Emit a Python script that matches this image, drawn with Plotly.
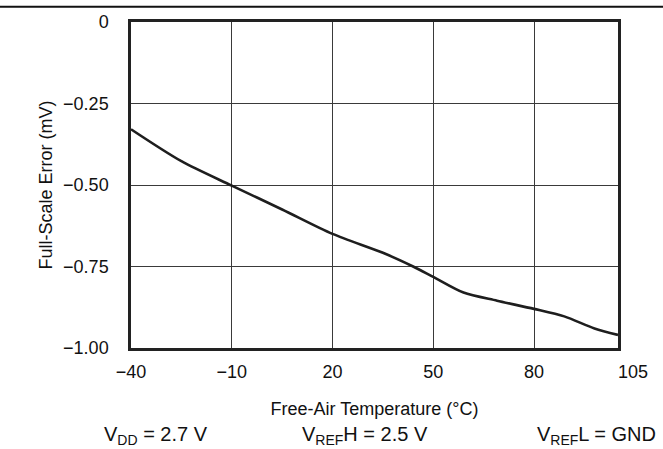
import numpy as np
import plotly.graph_objects as go

# Data
temperature = [-40, -25, -10, 5, 20, 35, 44, 50, 59, 69, 80, 89, 98, 105]
fs_error = [-0.329, -0.427, -0.502, -0.575, -0.650, -0.708, -0.750, -0.782,
            -0.830, -0.855, -0.880, -0.903, -0.940, -0.960]

x_ticks = [-40, -10, 20, 50, 80, 105]
x_ticktext = ["\u221240", "\u221210", "20", "50", "80", ""]
y_ticks = [0, -0.25, -0.5, -0.75, -1.0]
y_ticktext = ["0", "\u22120.25", "\u22120.50", "\u22120.75", "\u22121.00"]

FONT = "Liberation Sans, Arial, Helvetica, sans-serif"
FS = 18
FS_NOTE = 20

fig = go.Figure()
fig.add_trace(go.Scatter(
    x=temperature, y=fs_error, mode="lines",
    line=dict(color="#1e1e1e", width=2.6, shape="spline", smoothing=0.8),
    showlegend=False, hoverinfo="skip"))

fig.update_layout(
    width=663, height=449,
    margin=dict(l=131, r=45, t=19.5, b=100.5),
    paper_bgcolor="white", plot_bgcolor="white",
    font=dict(family=FONT, size=FS, color="#111"),
    xaxis=dict(
        range=[-40, 105], tickmode="array", tickvals=x_ticks, ticktext=x_ticktext,
        showgrid=True, gridcolor="#3a3a3a", gridwidth=1,
        showline=True, mirror=True, linecolor="#222", linewidth=2.5,
        ticks="", zeroline=False, ticklabelstandoff=6,
        title=dict(text="Free-Air Temperature (\u00b0C)", standoff=22,
                   font=dict(size=FS)),
    ),
    yaxis=dict(
        range=[-1.0, 0], tickmode="array", tickvals=y_ticks, ticktext=y_ticktext,
        showgrid=True, gridcolor="#3a3a3a", gridwidth=1,
        showline=True, mirror=True, linecolor="#222", linewidth=2.5,
        ticks="", zeroline=False, ticklabelstandoff=16,
        title=dict(text="Full-Scale Error (mV)", standoff=6, font=dict(size=FS)),
    ),
    shapes=[dict(type="line", xref="paper", yref="paper",
                 x0=-0.5, x1=1.5, y0=1.047, y1=1.047,
                 line=dict(color="#111", width=2))],
    annotations=[
        dict(text="105", x=105, y=0, xref="x", yref="paper",
             showarrow=False, xanchor="center", yanchor="middle",
             xshift=15, yshift=-23.5, font=dict(size=FS)),
        dict(text="V<sub>DD</sub> = 2.7 V", x=156, y=437, xref="paper", yref="paper",
             showarrow=False, font=dict(size=FS_NOTE)),
        dict(text="V<sub>REF</sub>H = 2.5 V", x=365, y=437, xref="paper", yref="paper",
             showarrow=False, font=dict(size=FS_NOTE)),
        dict(text="V<sub>REF</sub>L = GND", x=596, y=437, xref="paper", yref="paper",
             showarrow=False, font=dict(size=FS_NOTE)),
    ],
)

# convert bottom-text pixel positions to paper coordinates
pw = 663 - 131 - 45
ph = 449 - 19.5 - 100.5
for ann in fig.layout.annotations[1:]:
    px, py = ann.x, ann.y
    ann.x = (px - 131) / pw
    ann.y = (449 - 100.5 - py) / ph
    ann.xanchor = "center"
    ann.yanchor = "middle"

fig.write_html("out.html")
